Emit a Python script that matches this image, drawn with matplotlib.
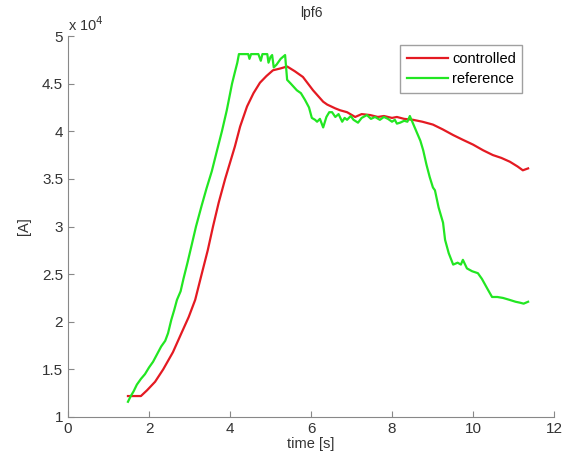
import numpy as np
import matplotlib.pyplot as plt
from matplotlib.ticker import FuncFormatter

plt.rcParams['font.family'] = ['Liberation Sans', 'DejaVu Sans']

# reference current [A] vs time [s]
t_ref = [1.48, 1.55, 1.62, 1.70, 1.80, 1.90, 2.00, 2.10, 2.20, 2.30, 2.40, 2.47,
         2.55, 2.62, 2.69, 2.78, 2.85, 2.95, 3.05, 3.16, 3.30, 3.42, 3.55, 3.68,
         3.80, 3.92, 4.05, 4.12, 4.18, 4.22, 4.45, 4.48, 4.52, 4.70, 4.76, 4.80,
         4.92, 4.95, 5.00, 5.04, 5.08, 5.15, 5.25, 5.36, 5.41, 5.50, 5.65, 5.75,
         5.85, 5.95, 6.02, 6.10, 6.15, 6.22, 6.30, 6.38, 6.45, 6.52, 6.60, 6.68,
         6.77, 6.83, 6.89, 6.98, 7.05, 7.16, 7.25, 7.38, 7.48, 7.58, 7.70, 7.80,
         7.90, 8.00, 8.07, 8.12, 8.20, 8.30, 8.38, 8.44, 8.52, 8.62, 8.70, 8.77,
         8.85, 8.93, 9.01, 9.06, 9.15, 9.26, 9.31, 9.40, 9.51, 9.62, 9.70, 9.75,
         9.85, 9.98, 10.12, 10.22, 10.35, 10.47, 10.60, 10.74, 10.90, 11.05,
         11.16, 11.25, 11.36]
i_ref = [11600, 12200, 12700, 13400, 14000, 14500, 15200, 15800, 16600, 17400,
         18000, 18800, 20200, 21200, 22300, 23200, 24500, 26200, 28000, 30000,
         32200, 34000, 35800, 38000, 40000, 42200, 45000, 46200, 47200, 48100,
         48100, 47600, 48100, 48100, 47400, 48100, 48100, 47200, 47800, 48000,
         46700, 47000, 47600, 48000, 45400, 45000, 44300, 44000, 43300, 42500,
         41400, 41200, 41000, 41300, 40400, 41500, 42000, 42000, 41500, 41800,
         41000, 41400, 41200, 41600, 41200, 40900, 41400, 41700, 41300, 41500,
         41200, 41500, 41300, 41000, 41200, 40800, 40900, 41100, 41000, 41600,
         40800, 39800, 39000, 38000, 36500, 35200, 34100, 33800, 32000, 30400,
         28600, 27200, 26000, 26200, 26000, 26500, 25600, 25300, 25100, 24500,
         23500, 22600, 22600, 22500, 22300, 22100, 22000, 21900, 22100]

# controlled current
t_ctl = [1.48, 1.80, 1.95, 2.15, 2.35, 2.59, 2.80, 2.98, 3.14, 3.30, 3.45, 3.58,
         3.72, 3.88, 4.00, 4.12, 4.25, 4.42, 4.58, 4.74, 4.90, 5.06, 5.25, 5.41,
         5.60, 5.80, 6.05, 6.30, 6.40, 6.60, 6.72, 6.89, 7.09, 7.25, 7.46, 7.65,
         7.80, 8.00, 8.12, 8.30, 8.52, 8.75, 9.01, 9.25, 9.51, 9.75, 10.00, 10.25,
         10.49, 10.70, 10.91, 11.10, 11.23, 11.36]
i_ctl = [12200, 12200, 12800, 13700, 15000, 16800, 18800, 20500, 22300, 25000,
         27500, 30000, 32500, 35000, 36700, 38400, 40500, 42600, 44000, 45100,
         45800, 46400, 46600, 46800, 46300, 45700, 44300, 43100, 42800, 42400,
         42200, 42000, 41500, 41800, 41700, 41500, 41600, 41400, 41500, 41300,
         41200, 41000, 40700, 40200, 39600, 39100, 38600, 38000, 37500, 37200,
         36800, 36300, 35900, 36100]

fig = plt.figure(figsize=(5.64, 4.54), dpi=100)
ax = fig.add_axes([0.1206, 0.0815, 0.8617, 0.8392])

ax.plot(t_ctl, i_ctl, color='#e41a22', lw=1.6, label='controlled')
ax.plot(t_ref, i_ref, color='#22e622', lw=1.6, label='reference')

ax.set_xlim(0, 12)
ax.set_ylim(10000, 50000)
ax.set_xticks(np.arange(0, 13, 2))
ax.set_yticks(np.arange(10000, 50001, 5000))
ax.yaxis.set_major_formatter(FuncFormatter(lambda v, p: '%g' % (v / 1e4)))

for s in ['top', 'right']:
    ax.spines[s].set_visible(False)
for s in ['left', 'bottom']:
    ax.spines[s].set_color('#888888')
ax.tick_params(direction='in', length=4, color='#888888', labelsize=11,
               labelcolor='#333333')

ax.set_title('lpf6', fontsize=10, color='#333333', pad=14)
ax.set_xlabel('time [s]', fontsize=10.5, color='#333333', labelpad=1)
ax.set_ylabel('[A]', fontsize=10.5, color='#333333', labelpad=8)
ax.text(0.0, 1.005, r'x 10$^4$', transform=ax.transAxes, fontsize=10.5,
        color='#333333', va='bottom', ha='left')

leg = ax.legend(loc='upper right', bbox_to_anchor=(0.95, 0.995), fontsize=10.5,
                fancybox=False, handlelength=2.8, handletextpad=0.3,
                borderpad=0.45, labelspacing=0.45)
leg.get_frame().set_edgecolor('#888888')
leg.get_frame().set_linewidth(1.0)

plt.savefig('out.png', dpi=100)
